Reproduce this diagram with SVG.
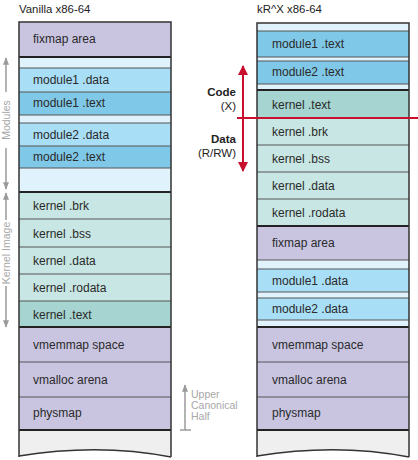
<svg xmlns="http://www.w3.org/2000/svg" width="418" height="460" viewBox="0 0 418 460">
<defs>
<style>
text{font-family:"Liberation Sans",Arial,sans-serif;}
.lbl{font-size:12px;fill:#2a2a2a;}
.title{font-size:11.4px;fill:#222;}
.side{font-size:10.5px;fill:#a8a8a8;}
.purple{fill:#c9c5e1;}
.lt{fill:#e0f2fb;}
.mdata{fill:#a9dff6;}
.mtext{fill:#80c8e7;}
.kern{fill:#c8e6e3;}
.ktext{fill:#a6d4d0;}
.grey{fill:#efefef;}
.sep{stroke:#555;stroke-width:1;fill:none;}
.thick{stroke:#222;stroke-width:2;fill:none;}
.outer{stroke:#333;stroke-width:1.5;fill:none;}
.garr{stroke:#9a9a9a;stroke-width:1.5;fill:none;}
.red{stroke:#c8102e;stroke-width:2;fill:none;}
</style>
<marker id="ga" viewBox="0 0 10 10" refX="9" refY="5" markerWidth="5" markerHeight="5" orient="auto-start-reverse"><path d="M0,1 L10,5 L0,9 z" fill="#9a9a9a"/></marker>
<marker id="ra" viewBox="0 0 10 10" refX="9" refY="5" markerWidth="5" markerHeight="5" orient="auto-start-reverse"><path d="M0,0 L10,5 L0,10 z" fill="#c8102e"/></marker>
</defs>

<text class="title" x="19" y="13">Vanilla x86-64</text>
<text class="title" x="257" y="13">kR^X x86-64</text>

<!-- Left column -->
<g id="left-fixmap"><rect class="purple" x="19" y="22" width="152" height="35"/><text class="lbl" x="33" y="43">fixmap area</text></g>
<g id="left-gap1"><rect class="lt" x="19" y="57" width="152" height="11"/></g>
<g id="left-m1data"><rect class="mdata" x="19" y="68" width="152" height="24"/><text class="lbl" x="33" y="84">module1 .data</text></g>
<g id="left-m1text"><rect class="mtext" x="19" y="92" width="152" height="23"/><text class="lbl" x="33" y="107">module1 .text</text></g>
<g id="left-gap2"><rect class="lt" x="19" y="115" width="152" height="8"/></g>
<g id="left-m2data"><rect class="mdata" x="19" y="123" width="152" height="23"/><text class="lbl" x="33" y="139">module2 .data</text></g>
<g id="left-m2text"><rect class="mtext" x="19" y="146" width="152" height="22"/><text class="lbl" x="33" y="161">module2 .text</text></g>
<g id="left-gap3"><rect class="lt" x="19" y="168" width="152" height="24"/></g>
<g id="left-kbrk"><rect class="kern" x="19" y="192" width="152" height="27"/><text class="lbl" x="33" y="210">kernel .brk</text></g>
<g id="left-kbss"><rect class="kern" x="19" y="219" width="152" height="28"/><text class="lbl" x="33" y="238">kernel .bss</text></g>
<g id="left-kdata"><rect class="kern" x="19" y="247" width="152" height="27"/><text class="lbl" x="33" y="265">kernel .data</text></g>
<g id="left-krodata"><rect class="kern" x="19" y="274" width="152" height="27"/><text class="lbl" x="33" y="292">kernel .rodata</text></g>
<g id="left-ktext"><rect class="ktext" x="19" y="301" width="152" height="26"/><text class="lbl" x="33" y="319">kernel .text</text></g>
<g id="left-vmemmap"><rect class="purple" x="19" y="327" width="152" height="35"/><text class="lbl" x="33" y="349">vmemmap space</text></g>
<g id="left-vmalloc"><rect class="purple" x="19" y="362" width="152" height="35"/><text class="lbl" x="33" y="384">vmalloc arena</text></g>
<g id="left-physmap"><rect class="purple" x="19" y="397" width="152" height="33"/><text class="lbl" x="33" y="417">physmap</text></g>
<g id="left-rest"><path class="grey" d="M19,430 H171 V457 C130,449 80,446 19,456 Z"/></g>

<g id="left-lines">
<path class="sep" d="M19,57 H171 M19,68 H171 M19,92 H171 M19,115 H171 M19,123 H171 M19,146 H171 M19,168 H171 M19,219 H171 M19,247 H171 M19,274 H171 M19,301 H171 M19,362 H171 M19,397 H171"/>
<path class="thick" d="M19,57 H171 M19,192 H171 M19,327 H171 M19,430 H171"/>
<path class="outer" d="M19,457 V22 H171 V457"/>
<path class="outer" d="M19,456 C80,446 130,449 171,457"/>
</g>

<!-- Right column -->
<g id="right-gap1"><rect class="lt" x="257" y="23" width="152" height="8"/></g>
<g id="right-m1text"><rect class="mtext" x="257" y="31" width="152" height="26"/><text class="lbl" x="272" y="48">module1 .text</text></g>
<g id="right-gap2"><rect class="lt" x="257" y="57" width="152" height="4"/></g>
<g id="right-m2text"><rect class="mtext" x="257" y="61" width="152" height="23"/><text class="lbl" x="272" y="76">module2 .text</text></g>
<g id="right-gap3"><rect class="lt" x="257" y="84" width="152" height="6"/></g>
<g id="right-ktext"><rect class="ktext" x="257" y="90" width="152" height="28"/><text class="lbl" x="272" y="109">kernel .text</text></g>
<g id="right-kbrk"><rect class="kern" x="257" y="118" width="152" height="27"/><text class="lbl" x="272" y="136">kernel .brk</text></g>
<g id="right-kbss"><rect class="kern" x="257" y="145" width="152" height="27"/><text class="lbl" x="272" y="163">kernel .bss</text></g>
<g id="right-kdata"><rect class="kern" x="257" y="172" width="152" height="27"/><text class="lbl" x="272" y="190">kernel .data</text></g>
<g id="right-krodata"><rect class="kern" x="257" y="199" width="152" height="27"/><text class="lbl" x="272" y="217">kernel .rodata</text></g>
<g id="right-fixmap"><rect class="purple" x="257" y="226" width="152" height="34"/><text class="lbl" x="272" y="247">fixmap area</text></g>
<g id="right-gap4"><rect class="lt" x="257" y="260" width="152" height="9"/></g>
<g id="right-m1data"><rect class="mdata" x="257" y="269" width="152" height="23"/><text class="lbl" x="272" y="285">module1 .data</text></g>
<g id="right-gap5"><rect class="lt" x="257" y="292" width="152" height="6"/></g>
<g id="right-m2data"><rect class="mdata" x="257" y="298" width="152" height="22"/><text class="lbl" x="272" y="313">module2 .data</text></g>
<g id="right-gap6"><rect class="lt" x="257" y="320" width="152" height="7"/></g>
<g id="right-vmemmap"><rect class="purple" x="257" y="327" width="152" height="35"/><text class="lbl" x="272" y="349">vmemmap space</text></g>
<g id="right-vmalloc"><rect class="purple" x="257" y="362" width="152" height="35"/><text class="lbl" x="272" y="384">vmalloc arena</text></g>
<g id="right-physmap"><rect class="purple" x="257" y="397" width="152" height="33"/><text class="lbl" x="272" y="417">physmap</text></g>
<g id="right-rest"><path class="grey" d="M257,430 H409 V457 C368,449 318,446 257,456 Z"/></g>

<g id="right-lines">
<path class="sep" d="M257,31 H409 M257,57 H409 M257,61 H409 M257,84 H409 M257,145 H409 M257,172 H409 M257,199 H409 M257,260 H409 M257,269 H409 M257,292 H409 M257,298 H409 M257,320 H409 M257,362 H409 M257,397 H409"/>
<path class="thick" d="M257,90 H409 M257,226 H409 M257,327 H409 M257,430 H409"/>
<path class="outer" d="M257,457 V23 H409 V457"/>
<path class="outer" d="M257,456 C318,446 368,449 409,457"/>
</g>

<!-- Side annotations -->
<g id="modules-label">
<text class="side" transform="translate(9.5,120) rotate(-90)" text-anchor="middle">Modules</text>
<path class="garr" d="M6,92 V58" marker-end="url(#ga)"/>
<path class="garr" d="M6,148 V189" marker-end="url(#ga)"/>
</g>
<g id="kernel-image-label">
<text class="side" transform="translate(9.5,253) rotate(-90)" text-anchor="middle">Kernel Image</text>
<path class="garr" d="M6,220 V193" marker-end="url(#ga)"/>
<path class="garr" d="M6,286 V327" marker-end="url(#ga)"/>
</g>
<g id="upper-half-label">
<path class="garr" d="M185,430 V385" marker-end="url(#ga)"/>
<path class="garr" d="M180,430 H191"/>
<text class="side" x="191" y="398">Upper</text>
<text class="side" x="191" y="409">Canonical</text>
<text class="side" x="191" y="420">Half</text>
</g>

<g id="code-data">
<text x="236" y="96" text-anchor="end" style="font-size:11.5px;font-weight:bold;fill:#222">Code</text>
<text x="236" y="110" text-anchor="end" style="font-size:11.5px;fill:#222">(X)</text>
<text x="236" y="143" text-anchor="end" style="font-size:11.5px;font-weight:bold;fill:#222">Data</text>
<text x="236" y="157" text-anchor="end" style="font-size:11.5px;fill:#222">(R/RW)</text>
<path class="red" d="M243,118 V66" marker-end="url(#ra)"/>
<path class="red" d="M243,118 V171" marker-end="url(#ra)"/>
<path class="red" d="M237,118 H418"/>
</g>
</svg>
